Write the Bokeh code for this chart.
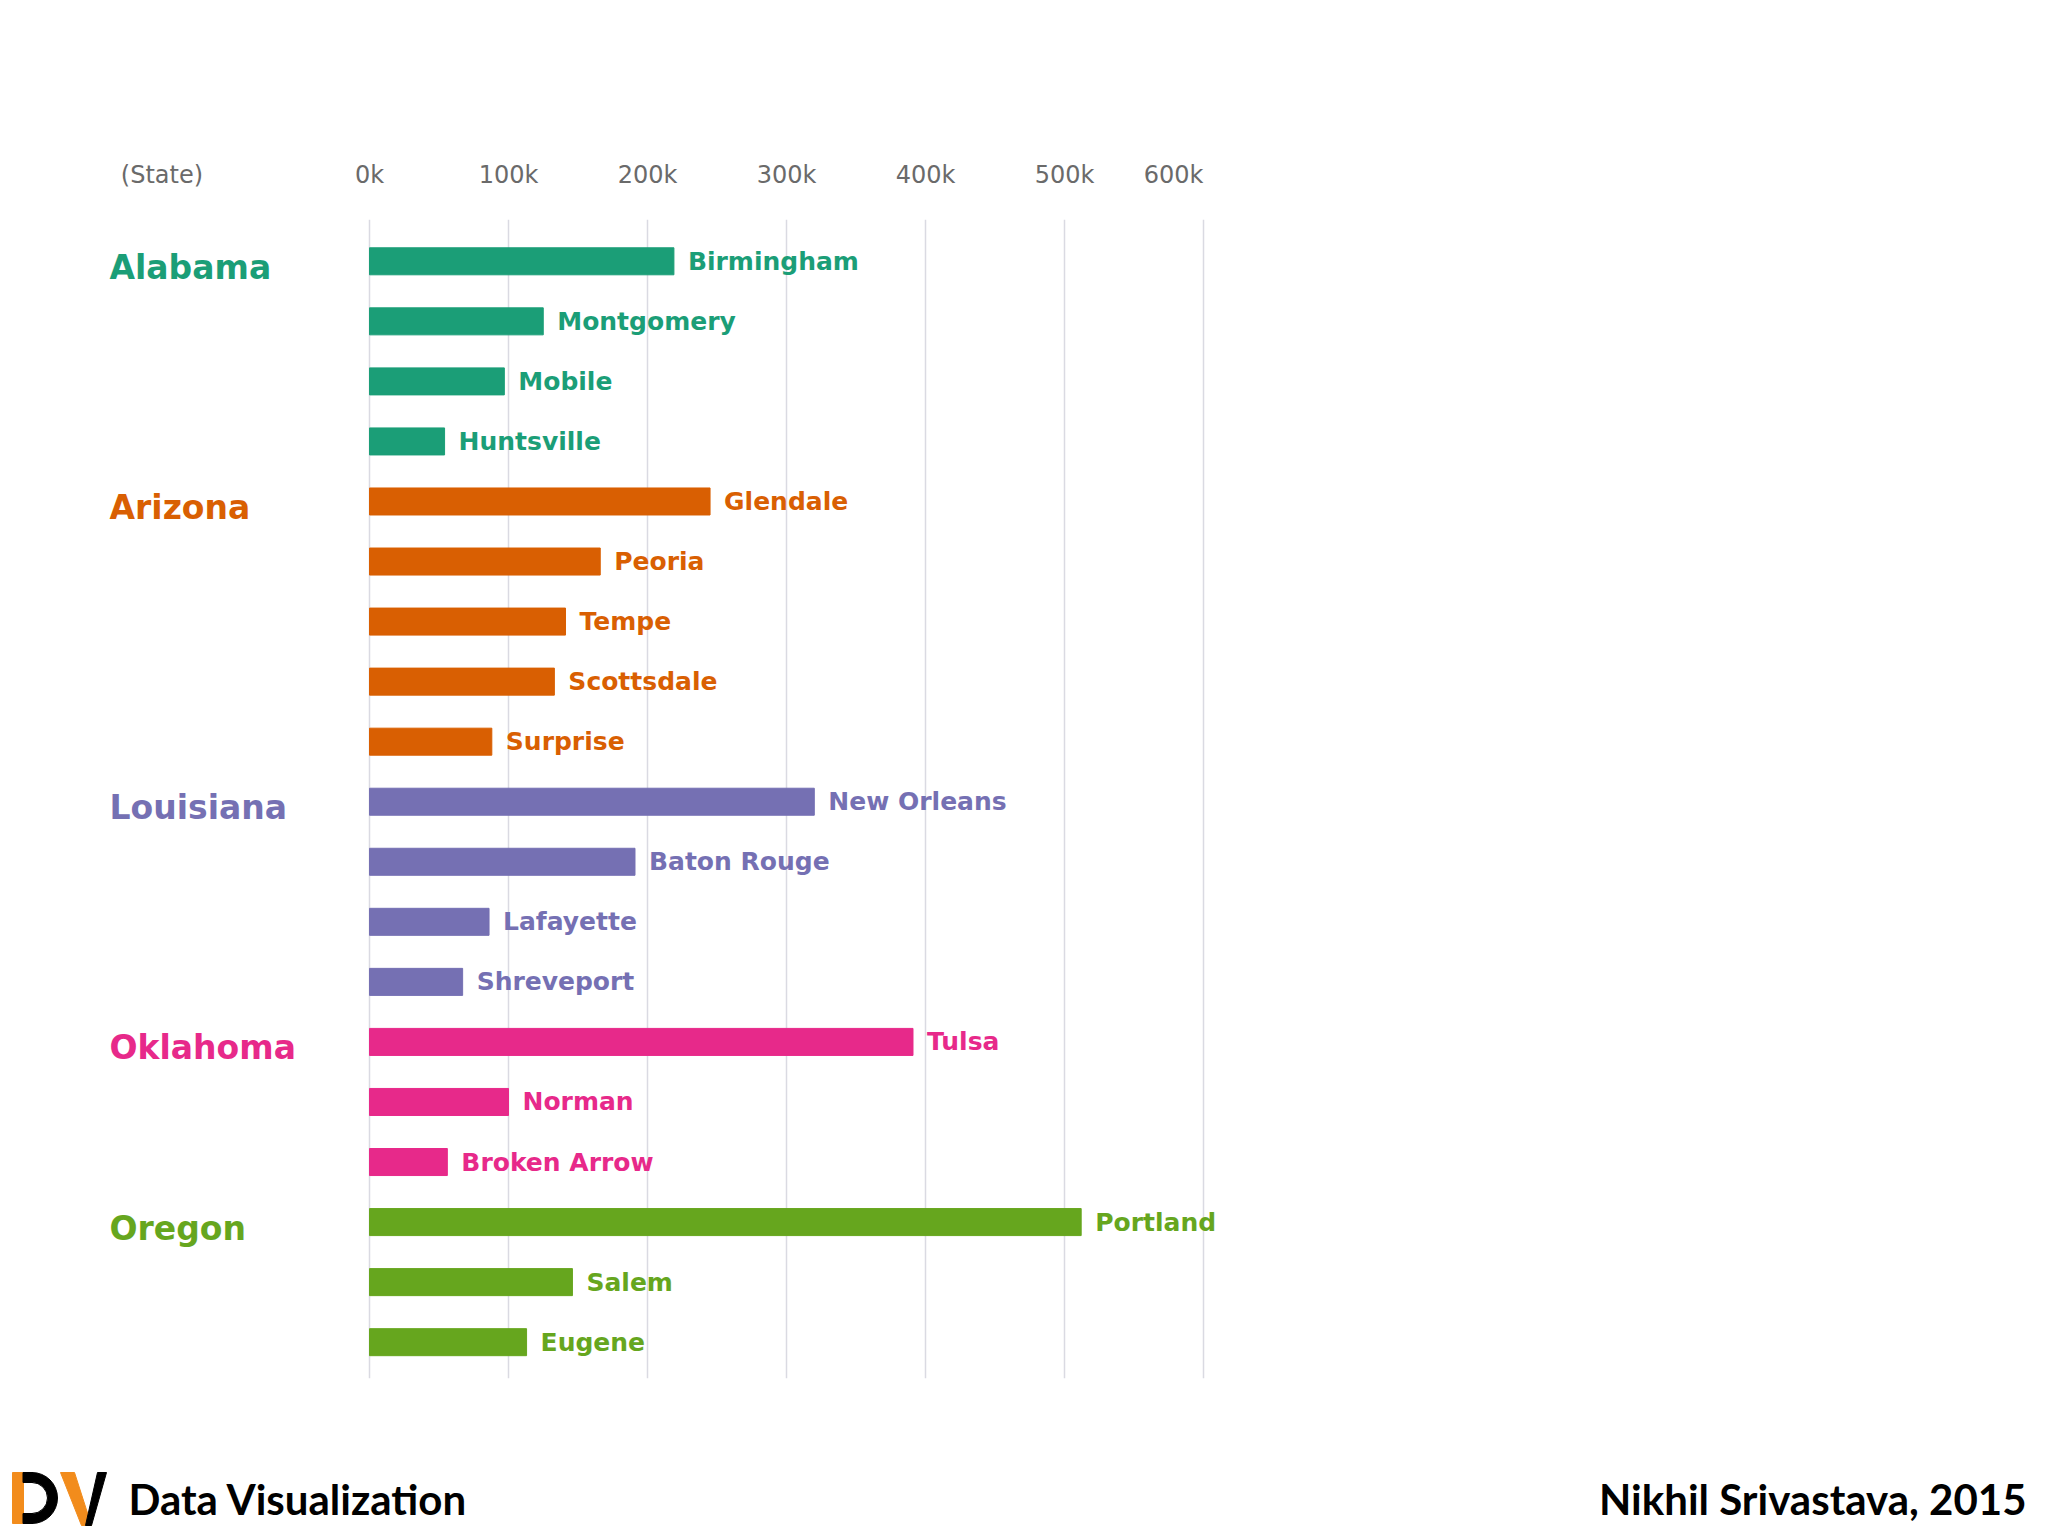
import numpy as np
from bokeh.plotting import figure
from bokeh.models import ColumnDataSource, FixedTicker, LinearAxis, Range1d, Grid
from bokeh.layouts import column
from bokeh.core.properties import value
from bokeh.embed import file_html
from bokeh.resources import INLINE

# data
states = ["Alabama", "Arizona", "Louisiana", "Oklahoma", "Oregon"]
state_colors = ["#1b9e77", "#d95f02", "#7570b3", "#e7298a", "#66a61e"]
cities = ["Birmingham", "Montgomery", "Mobile", "Huntsville",
          "Glendale", "Peoria", "Tempe", "Scottsdale", "Surprise",
          "New Orleans", "Baton Rouge", "Lafayette", "Shreveport",
          "Tulsa", "Norman", "Broken Arrow",
          "Portland", "Salem", "Eugene"]
city_state = ["Alabama"] * 4 + ["Arizona"] * 5 + ["Louisiana"] * 4 + \
             ["Oklahoma"] * 3 + ["Oregon"] * 3
population = [219000, 125000, 97000, 54000,
              245000, 166000, 141000, 133000, 88000,
              320000, 191000, 86000, 67000,
              391000, 100000, 56000,
              512000, 146000, 113000]
tick_values = [0, 100000, 200000, 300000, 400000, 500000, 600000]
tick_labels = ["0k", "100k", "200k", "300k", "400k", "500k", "600k"]

FONT = value("DejaVu Sans")


def main():
    color_of = dict(zip(states, state_colors))
    rows = list(range(len(cities)))
    src = ColumnDataSource(data=dict(row=rows, city=cities, population=population,
                                     color=[color_of[s] for s in city_state]))
    state_rows = [city_state.index(s) for s in states]
    ssrc = ColumnDataSource(data=dict(row=state_rows, state=states, color=state_colors))

    p = figure(width=2032, height=1390,
               x_range=Range1d(-265470, 1196400), y_range=Range1d(18.605, -0.696),
               x_axis_type=None, y_axis_type=None,
               output_backend="svg", toolbar_location=None,
               min_border_left=0, min_border_right=0,
               min_border_top=219, min_border_bottom=12)
    p.outline_line_color = None
    p.background_fill_color = "white"
    p.border_fill_color = "white"

    p.add_layout(Grid(dimension=0, ticker=FixedTicker(ticks=tick_values),
                      grid_line_color="#dadae2", grid_line_width=1.5))

    # header row: "(State)" plus value ticks; the last label sits flush left of its line
    label_pos = tick_values[:-1] + [tick_values[-1] - 21600]
    header_pos = [-149300] + label_pos
    overrides = {v: t for v, t in zip(header_pos, ["(State)"] + tick_labels)}
    top = LinearAxis(ticker=FixedTicker(ticks=header_pos),
                     major_label_overrides=overrides,
                     axis_line_color=None, major_tick_line_color=None,
                     minor_tick_line_color=None, major_tick_out=0,
                     major_label_standoff=31,
                     major_label_text_font="DejaVu Sans",
                     major_label_text_font_size="24px",
                     major_label_text_color="#6a6a6a")
    p.add_layout(top, "above")

    p.hbar(y="row", left=0, right="population", height=0.45, color="color", source=src)
    p.text(x="population", y="row", text="city", source=src, x_offset=14,
           text_baseline="middle", text_align="left", text_color="color",
           text_font=FONT, text_font_style="bold", text_font_size="25px")
    p.text(x=0, y="row", text="state", source=ssrc, x_offset=-260, y_offset=6,
           text_baseline="middle", text_align="left", text_color="color",
           text_font=FONT, text_font_style="bold", text_font_size="33px")

    # footer (y measured up from the bottom of this 140 px strip)
    f = figure(width=2032, height=140, x_range=Range1d(0, 2032), y_range=Range1d(0, 140),
               x_axis_type=None, y_axis_type=None, min_border=0,
               output_backend="svg", toolbar_location=None)
    f.outline_line_color = None
    f.grid.visible = False
    orange = "#f28c1c"
    f.quad(left=12, right=23, top=58, bottom=7, color=orange)
    f.quad(left=[22.5, 22.5], right=[32, 32], top=[58, 17], bottom=[48, 7], color="black")
    f.annular_wedge(x=31.5, y=32.5, inner_radius=15.5, outer_radius=25.5,
                    start_angle=-np.pi / 2, end_angle=np.pi / 2, color="black")
    f.patch(x=[60, 74, 91, 81], y=[58, 58, 5, 5], color=orange)
    f.patch(x=[97, 106, 91, 85], y=[58, 58, 5, 5], color="black")
    f.text(x=128, y=32, text=["Data Visualization"], text_baseline="middle",
           text_font=value("Lato"), text_font_style="bold", text_font_size="42px",
           text_color="black")
    f.text(x=2026, y=32, text=["Nikhil Srivastava, 2015"], text_baseline="middle",
           text_align="right",
           text_font=value("Lato"), text_font_style="bold", text_font_size="42px",
           text_color="black")

    layout = column(p, f)
    open("out.html", "w").write(file_html(layout, INLINE))


if __name__ == '__main__':
    main()
